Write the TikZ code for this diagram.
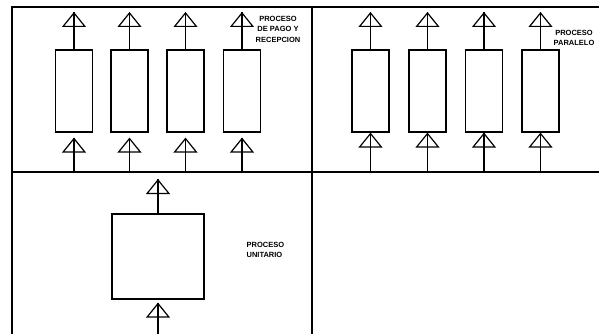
\documentclass[tikz,border=0pt]{standalone}
\usepackage{fontspec}
\setmainfont{Liberation Sans}
\usetikzlibrary{positioning,arrows.meta}

\begin{document}
\begin{tikzpicture}[x=1pt, y=-1pt, line width=1.2pt,
    caja/.style={draw, rectangle, inner sep=0pt, minimum width=37pt, minimum height=82pt},
    flujo/.style={-{Triangle[open, length=15pt, width=24pt, line width=1.2pt]}, postaction={draw, -}},
    rotulo/.style={align=center, font=\fontsize{7.5}{10.5}\selectfont\bfseries, inner sep=0pt}]
    \useasboundingbox (0,0) rectangle (599,334);

    % marco
    \draw (599,7) -- (12,7) -- (12,334);
    \draw (12,172) -- (599,172);
    \draw (312,7) -- (312,334);

    % procesos arriba a la izquierda
    \node[caja] (CajaA1) at (74,91) {};
    \node[caja] (CajaA2) at (129.5,91) {};
    \node[caja] (CajaA3) at (185.5,91) {};
    \node[caja] (CajaA4) at (242,91) {};
    \coordinate (SalA1) at (74,12);
    \coordinate (SalA2) at (129.5,12);
    \coordinate (SalA3) at (185.5,12);
    \coordinate (SalA4) at (242,12);
    \coordinate (EntA1) at (74,172);
    \coordinate (EntA2) at (129.5,172);
    \coordinate (EntA3) at (185.5,172);
    \coordinate (EntA4) at (242,172);
    \node[rotulo] (TextoA) at (278,29) {PROCESO\\DE PAGO Y\\RECEPCION};

    \draw[flujo] (CajaA1) -- (SalA1);
    \draw[flujo] (CajaA2) -- (SalA2);
    \draw[flujo] (CajaA3) -- (SalA3);
    \draw[flujo] (CajaA4) -- (SalA4);
    \draw[flujo, shorten >=5pt] (EntA1) -- (CajaA1.south);
    \draw[flujo, shorten >=5pt] (EntA2) -- (CajaA2.south);
    \draw[flujo, shorten >=5pt] (EntA3) -- (CajaA3.south);
    \draw[flujo, shorten >=5pt] (EntA4) -- (CajaA4.south);

    % procesos arriba a la derecha
    \node[caja] (CajaB1) at (370.5,91) {};
    \node[caja] (CajaB2) at (427.5,91) {};
    \node[caja] (CajaB3) at (484,91) {};
    \node[caja] (CajaB4) at (540.5,91) {};
    \coordinate (SalB1) at (370.5,12);
    \coordinate (SalB2) at (427.5,12);
    \coordinate (SalB3) at (484,12);
    \coordinate (SalB4) at (540.5,12);
    \coordinate (EntB1) at (370.5,172);
    \coordinate (EntB2) at (427.5,172);
    \coordinate (EntB3) at (484,172);
    \coordinate (EntB4) at (540.5,172);
    \node[rotulo] (TextoB) at (574,38) {PROCESO\\PARALELO};

    \draw[flujo] (CajaB1) -- (SalB1);
    \draw[flujo] (CajaB2) -- (SalB2);
    \draw[flujo] (CajaB3) -- (SalB3);
    \draw[flujo] (CajaB4) -- (SalB4);
    \draw[flujo] (EntB1) -- (CajaB1.south);
    \draw[flujo] (EntB2) -- (CajaB2.south);
    \draw[flujo] (EntB3) -- (CajaB3.south);
    \draw[flujo] (EntB4) -- (CajaB4.south);

    % proceso abajo
    \node[caja, minimum width=92pt, minimum height=85pt] (CajaC) at (158,256.5) {};
    \coordinate (SalC) at (158,179);
    \coordinate (EntC) at (158,334);
    \node[rotulo, align=left, anchor=west] (TextoC) at (246,250) {PROCESO\\UNITARIO};

    \draw[flujo] (CajaC) -- (SalC);
    \draw[flujo, shorten >=3pt] (EntC) -- (CajaC.south);
\end{tikzpicture}
\end{document}
